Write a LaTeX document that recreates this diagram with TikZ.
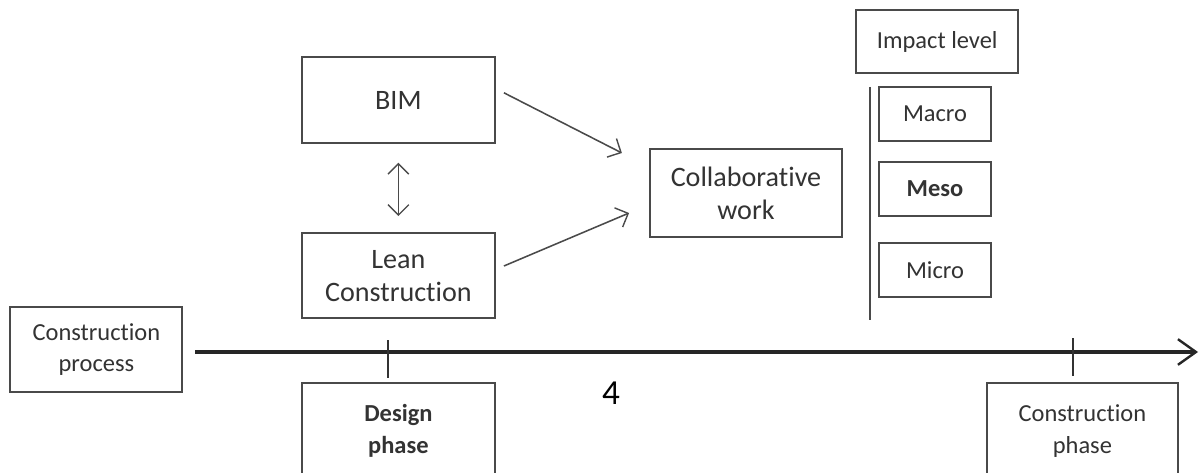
\documentclass[tikz,border=0pt]{standalone}
\usepackage{fontspec}
\setmainfont[Ligatures=NoCommon]{Carlito}
\usetikzlibrary{arrows.meta}
\definecolor{ink}{HTML}{333333}
\definecolor{frame}{HTML}{4A4A4A}

\begin{document}
\begin{tikzpicture}[
  >={Straight Barb[length=2.6mm,width=5.2mm,line width=1pt]},
  box/.style={draw=frame,line width=1.3pt,text=ink,align=center,inner sep=0pt,
    font=\fontsize{17.4}{22.5}\selectfont},
  bigbox/.style={box,font=\fontsize{20}{23.5}\selectfont},
  link/.style={->,frame,line width=1.1pt}]
  \clip (0,0) rectangle (30,11.8);
  \fill[white] (0,0) rectangle (30,11.8);
  % left column
  \node[bigbox,minimum width=4.83cm,minimum height=2.15cm] (bim) at (9.96,9.3) {BIM};
  \node[bigbox,minimum width=4.83cm,minimum height=2.13cm] (lean) at (9.96,4.91) {Lean\\Construction};
  \draw[link,<->,shorten <=0.47cm,shorten >=0.4cm] (bim) -- (lean);
  % collaborative work
  \node[bigbox,minimum width=4.8cm,minimum height=2.2cm] (collab) at (18.65,6.975) {Collaborative\\work};
  \draw[link] ([shift={(0.2,0.18)}]bim.east) -- ([shift={(-0.68,1.0)}]collab.west);
  \draw[link] ([shift={(0.2,0.24)}]lean.east) -- ([shift={(-0.5,-0.5)}]collab.west);
  % impact levels
  \node[box,minimum width=4.05cm,minimum height=1.58cm] (impact) at (23.43,10.76) {Impact level};
  \node[box,minimum width=2.8cm,minimum height=1.35cm] (macro) at (23.375,8.95) {Macro};
  \node[box,minimum width=2.8cm,minimum height=1.35cm,font=\fontsize{17.4}{22.5}\selectfont\bfseries] (meso) at (23.375,7.075) {Meso};
  \node[box,minimum width=2.8cm,minimum height=1.35cm] (micro) at (23.375,5.05) {Micro};
  \draw[frame,line width=1.1pt] (21.75,9.625) -- (21.75,3.8);
  % time line
  \node[box,minimum width=4.3cm,minimum height=2.13cm] (process) at (2.41,3.06) {Construction\\process};
  \coordinate (axisend) at (29.95,3.0);
  \draw[->,>={Straight Barb[length=4.5mm,width=6.4mm,line width=1.7pt]},black!85,line width=2.2pt]
    (4.875,3.0) -- (axisend);
  \draw[ink,line width=1.1pt] (9.7,3.3) -- (9.7,2.35);
  \draw[ink,line width=1.1pt] (26.83,3.35) -- (26.83,2.4);
  \node[box,minimum width=4.83cm,minimum height=2.4cm,font=\fontsize{17.4}{22.5}\selectfont\bfseries] (design) at (9.96,1.025) {Design\\phase};
  \node[box,minimum width=4.78cm,minimum height=2.4cm] (build) at (27.06,1.025) {Construction\\phase};
  \node[text=black,font=\fontsize{25}{28}\selectfont] (num) at (15.275,1.975) {4};
\end{tikzpicture}
\end{document}
